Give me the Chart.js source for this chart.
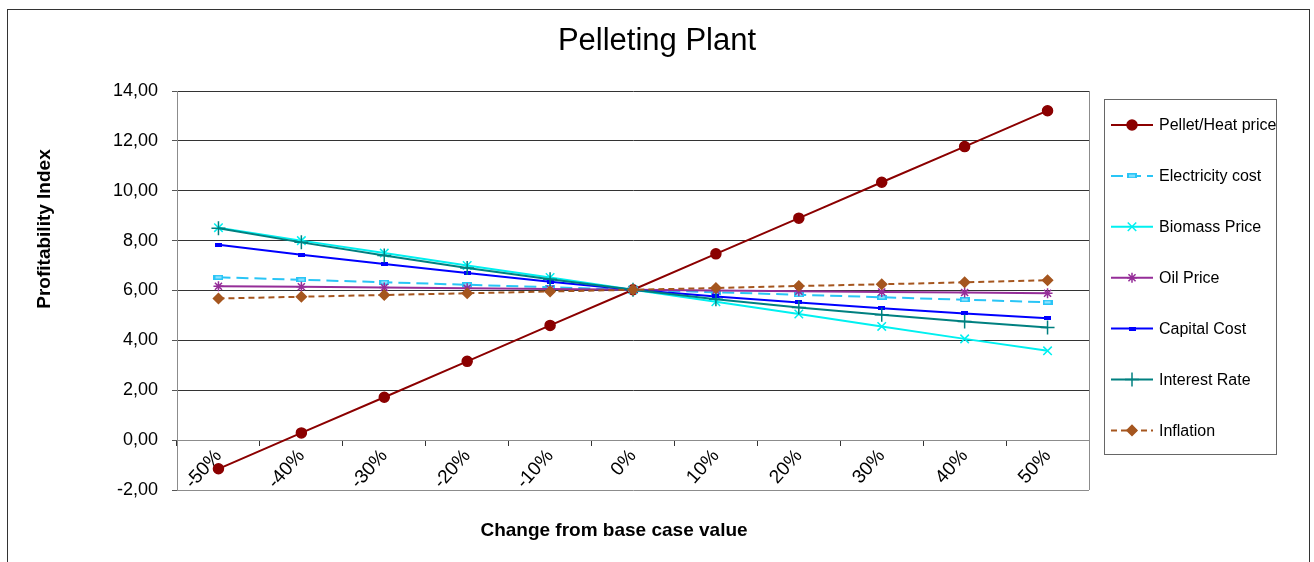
<!DOCTYPE html>
<html lang="en">
<head>
    <meta charset="UTF-8">
    <title>Pelleting Plant</title>
    <style>
        html, body { margin: 0; padding: 0; background: #fff; }
        .wrap { position: relative; width: 1314px; height: 562px; }
    </style>
</head>
<body>
    <div class="wrap">
        <canvas id="myChart"></canvas>
    </div>

    <script src="https://cdn.jsdelivr.net/npm/chart.js"></script>
    <script>
        // data
        var changes = ['-50%', '-40%', '-30%', '-20%', '-10%', '0%', '10%', '20%', '30%', '40%', '50%'];
        var pelletHeat = [-1.15, 0.29, 1.72, 3.16, 4.60, 6.03, 7.47, 8.90, 10.34, 11.77, 13.21];
        var electricity = [6.53, 6.43, 6.33, 6.23, 6.13, 6.03, 5.93, 5.83, 5.73, 5.63, 5.53];
        var biomass = [8.52, 8.00, 7.50, 7.00, 6.52, 6.03, 5.55, 5.06, 4.56, 4.06, 3.58];
        var oilPrice = [6.17, 6.15, 6.12, 6.09, 6.06, 6.03, 6.00, 5.97, 5.94, 5.92, 5.89];
        var capitalCost = [7.83, 7.43, 7.06, 6.70, 6.35, 6.03, 5.76, 5.52, 5.29, 5.08, 4.89];
        var interestRate = [8.50, 7.93, 7.40, 6.90, 6.45, 6.03, 5.65, 5.32, 5.03, 4.76, 4.52];
        var inflation = [5.68, 5.75, 5.82, 5.89, 5.96, 6.03, 6.10, 6.18, 6.25, 6.33, 6.41];
        var yTicks = [-2, 0, 2, 4, 6, 8, 10, 12, 14];

        var FONT = "'Liberation Sans', Arial, sans-serif";

        // small flat bar marker, like the excel "dash" marker
        function barMarker(w, h, color, inner) {
            var c = document.createElement('canvas');
            c.width = w;
            c.height = h;
            var g = c.getContext('2d');
            g.fillStyle = color;
            g.fillRect(0, 0, w, h);
            if (inner) {
                g.fillStyle = inner;
                g.fillRect(2, 1.5, w - 4, h - 3);
            }
            return c;
        }

        function series(label, data, color, style, radius, dash, order) {
            return {
                label: label,
                data: data,
                borderColor: color,
                backgroundColor: color,
                borderWidth: 2,
                borderDash: dash || [],
                pointStyle: style,
                pointRadius: radius,
                pointBorderWidth: 1.5,
                pointBackgroundColor: color,
                pointBorderColor: color,
                tension: 0,
                order: order
            };
        }

        // titles, legend box, frame
        var decor = {
            id: 'decor',
            afterDraw: function (chart) {
                var ctx = chart.ctx;
                var area = chart.chartArea;
                ctx.save();

                // outer frame
                ctx.strokeStyle = '#333';
                ctx.lineWidth = 1;
                ctx.strokeRect(7.5, 9.5, 1302, 600);

                // right edge of plot area
                ctx.strokeStyle = '#8c8c8c';
                ctx.beginPath();
                ctx.moveTo(Math.round(area.right) + 0.5, area.top);
                ctx.lineTo(Math.round(area.right) + 0.5, area.bottom);
                ctx.stroke();

                ctx.fillStyle = '#000';
                ctx.textAlign = 'center';
                ctx.textBaseline = 'middle';
                ctx.font = '31px ' + FONT;
                ctx.fillText('Pelleting Plant', 657, 41);

                ctx.font = 'bold 19px ' + FONT;
                ctx.fillText('Change from base case value', 614, 531);

                ctx.save();
                ctx.translate(45, 229);
                ctx.rotate(-Math.PI / 2);
                ctx.fillText('Profitability Index', 0, 0);
                ctx.restore();

                // legend
                ctx.strokeStyle = '#666';
                ctx.strokeRect(1104.5, 99.5, 172, 355);
                ctx.font = '16px ' + FONT;
                ctx.textAlign = 'left';
                chart.data.datasets.forEach(function (ds, i) {
                    var y = 125 + i * 50.9;
                    ctx.strokeStyle = ds.borderColor;
                    ctx.lineWidth = 2;
                    ctx.setLineDash(ds.borderDash);
                    ctx.beginPath();
                    ctx.moveTo(1111, y);
                    ctx.lineTo(1153, y);
                    ctx.stroke();
                    ctx.setLineDash([]);
                    ctx.fillStyle = ds.pointBackgroundColor;
                    ctx.strokeStyle = ds.pointBorderColor;
                    ctx.lineWidth = ds.pointBorderWidth;
                    Chart.helpers.drawPoint(ctx, {
                        pointStyle: ds.pointStyle,
                        radius: ds.pointRadius,
                        rotation: 0,
                        borderWidth: ds.pointBorderWidth
                    }, 1132, y);
                    ctx.fillStyle = '#000';
                    ctx.fillText(ds.label, 1159, y + 1);
                });
                ctx.restore();
            }
        };

        var ctx = document.getElementById('myChart').getContext('2d');
        new Chart(ctx, {
            type: 'line',
            data: {
                labels: changes,
                datasets: [
                    series('Pellet/Heat price', pelletHeat, '#8b0000', 'circle', 5, null, 6),
                    series('Electricity cost', electricity, '#29c5f6', barMarker(10, 5, '#29c5f6', '#9be6ff'), 4, [12, 6], 5),
                    series('Biomass Price', biomass, '#00f0f0', 'crossRot', 6, null, 4),
                    series('Oil Price', oilPrice, '#952d98', 'star', 5, null, 3),
                    series('Capital Cost', capitalCost, '#0000ff', barMarker(7, 4, '#0000ff'), 3, null, 2),
                    series('Interest Rate', interestRate, '#008080', 'cross', 7, null, 1),
                    series('Inflation', inflation, '#a5561f', 'rectRot', 5, [6, 4], 0)
                ]
            },
            options: {
                responsive: true,
                maintainAspectRatio: false,
                animation: false,
                layout: {
                    padding: { left: 0, right: 225, top: 91, bottom: 72 }
                },
                plugins: {
                    legend: { display: false },
                    title: { display: false },
                    tooltip: { enabled: false }
                },
                scales: {
                    x: {
                        position: { y: 0 },
                        offset: true,
                        border: { color: '#8c8c8c', width: 1 },
                        grid: {
                            offset: true,
                            drawOnChartArea: false,
                            drawTicks: true,
                            tickLength: 5,
                            color: '#333'
                        },
                        ticks: {
                            autoSkip: false,
                            minRotation: 48,
                            maxRotation: 48,
                            padding: 0,
                            color: '#000',
                            font: { family: FONT, size: 19 }
                        }
                    },
                    y: {
                        min: -2,
                        max: 14,
                        afterFit: function (s) { s.width = 177; },
                        afterBuildTicks: function (s) {
                            s.ticks = yTicks.map(function (v) { return { value: v }; });
                        },
                        border: { color: '#8c8c8c', width: 1 },
                        grid: {
                            color: function (c) {
                                var v = c.tick ? c.tick.value : null;
                                return (v === -2 || v === 0) ? '#8c8c8c' : '#333';
                            },
                            tickColor: '#555',
                            tickLength: 5
                        },
                        ticks: {
                            padding: 14,
                            color: '#000',
                            font: { family: FONT, size: 18 },
                            callback: function (v) {
                                return Number(v).toFixed(2).replace('.', ',');
                            }
                        }
                    }
                }
            },
            plugins: [decor]
        });
    </script>
</body>
</html>
